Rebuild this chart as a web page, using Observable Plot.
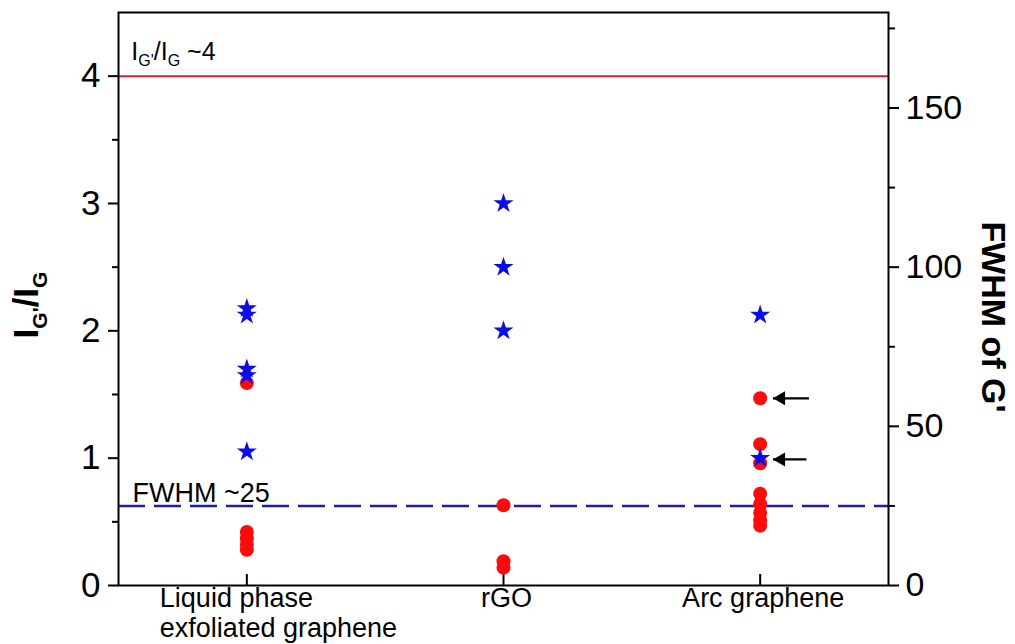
<!DOCTYPE html>
<html><head><meta charset="utf-8">
<script src="https://cdn.jsdelivr.net/npm/d3@7"></script>
<script src="https://cdn.jsdelivr.net/npm/@observablehq/plot@0.6"></script>
<style>
body{margin:0;background:#fff;}
svg{font-family:"Liberation Sans",Arial,Helvetica,sans-serif;}
</style>
</head><body><div id="chart"></div>
<script>
// ---- data ----
const categories = ["Liquid phase\nexfoliated graphene", "rGO", "Arc graphene"];
const ratioLiquid = [1.59, 0.42, 0.37, 0.32, 0.28];
const ratioRGO = [0.63, 0.19, 0.14];
const ratioArc = [1.47, 1.11, 0.96, 0.72, 0.64, 0.57, 0.51, 0.47];
const fwhmLiquid = [87, 85, 68, 66, 42];
const fwhmRGO = [120, 100, 80];
const fwhmArc = [85, 40];
const ratioRef = [4];
const fwhmRef = [25];
const leftTicks = [0, 1, 2, 3, 4];
const leftMinor = [0.5, 1.5, 2.5, 3.5];
const rightTicks = [0, 50, 100, 150];
const rightMinor = [25, 75, 125, 175];
const scaleFactor = 40; // right axis 180 <-> left axis 4.5
const arrowY = [1.47, 0.99];
const arrowTail = [3.19, 3.18];
const arrowTip = [3.05, 3.05];
const ratioLabel = [{x: 0.55, y: 4, text: "RATIO_LABEL"}];
const fwhmLabel = [{x: 0.555, y: 0.625, text: "FWHM ~25"}];

// ---- tables built from the arrays ----
const ratioPts = [
  ...ratioLiquid.map(v => ({c: 1, v})),
  ...ratioRGO.map(v => ({c: 2, v})),
  ...ratioArc.map(v => ({c: 3, v}))
];
const fwhmPts = [
  ...fwhmLiquid.map(v => ({c: 1, v})),
  ...fwhmRGO.map(v => ({c: 2, v})),
  ...fwhmArc.map(v => ({c: 3, v}))
];
const arrows = arrowY.map((y, i) => ({y, x1: arrowTail[i], x2: arrowTip[i]}));
const catLabel = i => categories[i - 1];

const chart = Plot.plot({
  width: 1015, height: 644,
  marginLeft: 118, marginRight: 127, marginTop: 12, marginBottom: 59,
  x: {domain: [0.5, 3.5]},
  y: {domain: [0, 4.5]},
  style: {fontFamily: '"Liberation Sans",Arial,sans-serif', color: "#000", background: "#fff"},
  marks: [
    Plot.ruleY(ratioRef, {stroke: "#d42026", strokeWidth: 2}),
    Plot.ruleY(fwhmRef.map(v => v / scaleFactor), {stroke: "#1c1cb0", strokeWidth: 2.5, strokeDasharray: "27 9"}),
    Plot.axisY(leftTicks, {anchor: "left", tickSize: 10, tickPadding: 8, fontSize: 35, label: null, strokeWidth: 2, tickFormat: v => String(v)}),
    Plot.axisY(leftMinor, {anchor: "left", tickSize: 6, tickFormat: () => "", label: null, strokeWidth: 2}),
    Plot.axisY(rightTicks.map(v => v / scaleFactor), {anchor: "right", tickSize: 10, tickPadding: 7, fontSize: 34, label: null, strokeWidth: 2, tickFormat: v => String(Math.round(v * scaleFactor))}),
    Plot.axisY(rightMinor.map(v => v / scaleFactor), {anchor: "right", tickSize: 6, tickFormat: () => "", label: null, strokeWidth: 2}),
    Plot.axisX([1, 2, 3], {anchor: "bottom", tickSize: -11, tickFormat: () => "", label: null, strokeWidth: 2}),
    Plot.axisX([1], {anchor: "bottom", tickSize: 0, tickPadding: 0, fontSize: 27, lineHeight: 1.11, label: null, textAnchor: "start", dx: -87, tickFormat: catLabel}),
    Plot.axisX([2, 3], {anchor: "bottom", tickSize: 0, tickPadding: 0, fontSize: 27, lineHeight: 1.11, label: null, dx: 3, tickFormat: catLabel}),
    Plot.frame({stroke: "#000", strokeWidth: 2}),
    Plot.dot(ratioPts, {x: "c", y: "v", r: 7, fill: "#ff0a0a", stroke: "none"}),
    Plot.dot(fwhmPts, {x: "c", y: d => d.v / scaleFactor, symbol: "star", r: 6.3, fill: "#0c0ce6", stroke: "none"}),
    Plot.link(arrows, {x1: "x1", x2: "x2", y1: "y", y2: "y", stroke: "#000", strokeWidth: 2.2}),
    Plot.dot(arrows, {x: "x2", y: "y", symbol: "triangle", r: 5.2, rotate: -90, dx: 8, fill: "#000", stroke: "none"}),
    Plot.text(ratioLabel, {x: "x", y: "y", text: "text", textAnchor: "start", lineAnchor: "bottom", dy: -16, fontSize: 25, fill: "#000"}),
    Plot.text(fwhmLabel, {x: "x", y: "y", text: "text", textAnchor: "start", lineAnchor: "bottom", dy: -4, fontSize: 27, fill: "#000"}),
    Plot.text(["LEFT_TITLE"], {frameAnchor: "left", textAnchor: "middle", dx: -92, dy: 6, rotate: -90, fontSize: 35, fontWeight: "bold", fill: "#000"}),
    Plot.text(["FWHM of G'"], {frameAnchor: "right", textAnchor: "middle", dx: 104, dy: 18, rotate: 90, fontSize: 34, fontWeight: "bold", fill: "#000"})
  ]
});
document.getElementById("chart").appendChild(chart);

// rich text with subscripts
function richText(placeholder, parts, subSize, subShift) {
  d3.select(chart).selectAll("text").filter(function() { return this.textContent === placeholder; })
    .each(function() {
      const t = d3.select(this);
      t.text(null);
      let shifted = false;
      for (const [s, isSub] of parts) {
        const ts = t.append("tspan").text(s);
        if (isSub && !shifted) { ts.attr("dy", subShift).attr("font-size", subSize); shifted = true; }
        else if (isSub) { ts.attr("font-size", subSize); }
        else if (!isSub && shifted) { ts.attr("dy", -subShift); shifted = false; }
      }
    });
}
richText("RATIO_LABEL", [["I", false], ["G'", true], ["/I", false], ["G", true], [" ~4", false]], 16, 6);
richText("LEFT_TITLE", [["I", false], ["G'", true], ["/I", false], ["G", true]], 21, 9);
</script>
</body></html>
